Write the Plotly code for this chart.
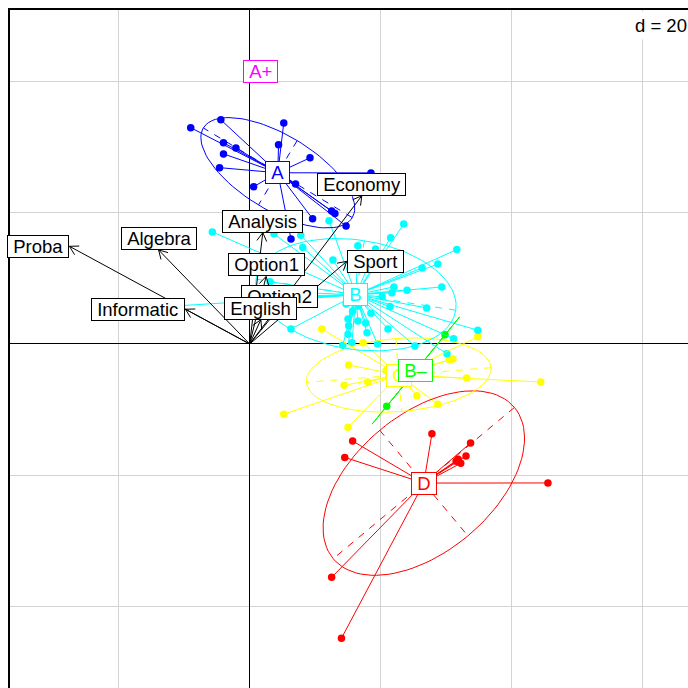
import numpy as np
import plotly.graph_objects as go

# ---- group data (s.class) ----
groups = ["D", "C", "B-", "B", "A", "A+"]
colors = ["#FF0000", "#FFFF00", "#00FF00", "#00FFFF", "#0000FF", "#FF00FF"]

D_x = [15.7, 14.5, 27.8, 33.7, 33.0, 31.8, 32.2, 31.5, 45.5, 12.5, 14.0]
D_y = [-14.8, -17.3, -13.7, -15.1, -17.1, -17.6, -18.2, -17.9, -21.2, -35.6, -44.9]

C_x = [11.0, 17.3, 15.1, 14.4, 18.0, 5.2, 15.0, 25.5, 28.7, 30.5, 31.0, 33.1, 44.4, 34.8,
       20.8, 21.5, 21.2, 21.8]
C_y = [2.3, 0.2, -3.2, -6.3, -5.8, -10.7, -12.7, -7.9, -9.2, -2.4, -2.3, -5.2, -5.8, 1.1,
       -4.1, -4.4, -5.0, -3.8]

Bm_x = [20.9, 29.8]
Bm_y = [-9.5, 1.4]

B_x = [-5.7, 3.7, 7.8, 8.1, 12.1, 12.7, 16.5, 19.2, 21.5, 23.5, 31.6, 28.7, 26.3, 29.3,
       24.0, 22.0, 21.7, 20.2, 27.0, 21.4, 21.1, 17.9, 15.0, 15.6, 14.2, 19.5, 25.2, 30.1,
       31.1, 34.8, 6.3, 15.0, 16.5, 17.7, 15.1, -11.3, 3.1, 16.6, 15.7, 18.5, 14.7, -1.4,
       1.7, 4.7, 0.2]
B_y = [17.1, 16.8, 16.6, 14.7, 18.8, 12.8, 15.0, 14.5, 16.2, 18.3, 14.4, 12.2, 11.6, 8.7,
       8.2, 8.7, 7.8, 7.2, 5.5, 5.7, 2.3, 1.7, 1.5, 0.2, -0.2, 0.0, -0.3, -1.5,
       0.8, 2.1, 2.3, 3.8, 3.5, 3.2, 2.8, 5.8, 9.5, 5.8, 5.0, 4.7, 6.1, 6.6,
       7.2, 6.6, 8.1]

A_x = [-9.0, -4.4, 5.2, -4.0, -2.1, -4.0, 4.4, -4.6, 9.2, 0.6, 7.0, 9.6, 13.0, 14.7, 6.3, 18.5, 12.5]
A_y = [33.0, 34.2, 33.7, 30.7, 29.9, 29.0, 30.4, 26.9, 28.4, 24.0, 24.4, 19.1, 19.9, 18.0, 16.0, 26.1, 20.3]

Ap_x = [1.7]
Ap_y = [41.5]

group_x = [D_x, C_x, Bm_x, B_x, A_x, Ap_x]
group_y = [D_y, C_y, Bm_y, B_y, A_y, Ap_y]

# ---- variable arrows (s.arrow) ----
var_names = ["Proba", "Algebra", "Informatic", "Analysis", "Option1", "Economy", "Sport", "Option2", "English"]
var_x = [-27.5, -13.9, -9.8, 2.0, 2.5, 17.1, 14.8, 4.5, 1.7]
var_y = [14.9, 14.35, 5.3, 17.0, 10.3, 22.6, 12.6, 5.5, 3.7]

FONT = "Liberation Sans, Arial, sans-serif"
FS = 18.5
NB = "\u00a0"

fig = go.Figure()

# points
for gx, gy, col in zip(group_x, group_y, colors):
    fig.add_trace(go.Scatter(x=gx, y=gy, mode="markers", marker=dict(color=col, size=7.5, line=dict(width=0)),
                             hoverinfo="skip"))

# stars
centers = []
for gx, gy, col in zip(group_x, group_y, colors):
    gx = np.array(gx); gy = np.array(gy)
    mx, my = gx.mean(), gy.mean()
    centers.append((mx, my))
    xs, ys = [], []
    for px, py in zip(gx, gy):
        xs += [mx, px, None]; ys += [my, py, None]
    fig.add_trace(go.Scatter(x=xs, y=ys, mode="lines", line=dict(color=col, width=1), hoverinfo="skip"))


def util_ellipse(mx, my, vx, cxy, vy, coeff):
    lig = 100
    epsi = 1e-10
    vx = max(vx, 0); vy = max(vy, 0)
    if vx == 0 and vy == 0:
        return None
    delta = np.sqrt((vx - vy) ** 2 + 4 * cxy * cxy)
    l1 = (vx + vy + delta) / 2
    l2 = vx + vy - l1
    l1 = np.sqrt(max(l1, 0)); l2 = np.sqrt(max(l2, 0))
    test = 0
    if vx == 0:
        a0, b0, test = 0, 1, 1
    if vy == 0 and test == 0:
        a0, b0, test = 1, 0, 1
    if abs(cxy) < epsi and test == 0:
        a0, b0 = (1, 0) if vx > vy else (0, 1)
        test = 1
    if test == 0:
        a0 = 1
        b0 = (l1 * l1 - vx) / cxy
        nrm = np.sqrt(a0 * a0 + b0 * b0)
        a0 /= nrm; b0 /= nrm
    c11 = coeff * a0 * l1
    c12 = -coeff * b0 * l2
    c21 = coeff * b0 * l1
    c22 = coeff * a0 * l2
    ang = np.linspace(0, 2 * np.pi, lig + 1)
    ex = mx + c11 * np.cos(ang) + c12 * np.sin(ang)
    ey = my + c21 * np.cos(ang) + c22 * np.sin(ang)
    seg1 = (mx + c11, my + c21, mx - c11, my - c21)
    seg2 = (mx + c12, my + c22, mx - c12, my - c22)
    return ex, ey, seg1, seg2


for gx, gy, col in zip(group_x, group_y, colors):
    gx = np.array(gx); gy = np.array(gy)
    mx, my = gx.mean(), gy.mean()
    vx = ((gx - mx) ** 2).mean(); vy = ((gy - my) ** 2).mean(); cxy = ((gx - mx) * (gy - my)).mean()
    res = util_ellipse(mx, my, vx, cxy, vy, 1.5)
    if res is None:
        continue
    ex, ey, s1, s2 = res
    fig.add_trace(go.Scatter(x=ex, y=ey, mode="lines", line=dict(color=col, width=1), hoverinfo="skip"))
    fig.add_trace(go.Scatter(x=[s1[0], s1[2], None, s2[0], s2[2]], y=[s1[1], s1[3], None, s2[1], s2[3]],
                             mode="lines", line=dict(color=col, width=1, dash="7px,7px"), hoverinfo="skip"))

annotations = []
for (mx, my), name, col in zip(centers, groups, colors):
    annotations.append(dict(x=mx, y=my, xref="x", yref="y", text=NB + name.replace("-", "\u2013") + NB,
                            showarrow=False, font=dict(family=FONT, size=FS, color=col),
                            bgcolor="white", bordercolor=col, borderwidth=1, borderpad=0,
                            xanchor="center", yanchor="middle"))

# arrows
L = 1.5
ang = np.deg2rad(30)
axs, ays = [], []
for x, y in zip(var_x, var_y):
    axs += [0, x, None]; ays += [0, y, None]
    th = np.arctan2(y, x)
    for s in (1, -1):
        a = th + np.pi + s * ang
        axs += [x, x + L * np.cos(a), None]; ays += [y, y + L * np.sin(a), None]
fig.add_trace(go.Scatter(x=axs, y=ays, mode="lines", line=dict(color="black", width=1), hoverinfo="skip"))

for name, x, y in zip(var_names, var_x, var_y):
    if x > y and x > -y:
        xa, ya = "left", "middle"
    elif x > y and x <= -y:
        xa, ya = "center", "top"
    elif x <= y and x <= -y:
        xa, ya = "right", "middle"
    else:
        xa, ya = "center", "bottom"
    annotations.append(dict(x=x, y=y, xref="x", yref="y", text=NB + name + NB, showarrow=False,
                            font=dict(family=FONT, size=FS, color="black"),
                            bgcolor="white", bordercolor="black", borderwidth=1, borderpad=0,
                            xanchor=xa, yanchor=ya))

annotations.append(dict(x=1, y=1, xref="paper", yref="paper", text="d = 20", showarrow=False,
                        font=dict(family=FONT, size=FS, color="black"), bgcolor="white",
                        borderpad=3, xanchor="right", yanchor="top", xshift=3, yshift=-1))

fig.update_layout(width=688, height=688, margin=dict(l=10, r=0, t=10, b=0),
                  plot_bgcolor="white", paper_bgcolor="white", showlegend=False,
                  annotations=annotations)
axis_common = dict(dtick=20, tick0=0, showgrid=True, gridcolor="#D3D3D3", gridwidth=1,
                   zeroline=True, zerolinecolor="black", zerolinewidth=1,
                   showticklabels=False, ticks="", showline=True, linecolor="black",
                   linewidth=1.5, fixedrange=True)
fig.update_xaxes(range=[-36.57, 66.87], side="top", **axis_common)
fig.update_yaxes(range=[-52.48, 50.95], side="left", **axis_common)

fig.write_html("out.html")
